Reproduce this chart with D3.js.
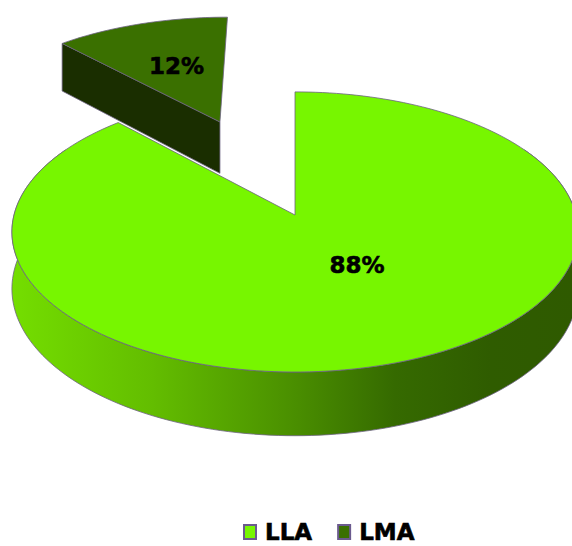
<!DOCTYPE html>
<html>
<head>
<meta charset="utf-8">
<script src="https://cdn.jsdelivr.net/npm/d3@7"></script>
<style>
  html, body { margin: 0; padding: 0; background: #fff; }
  svg { display: block; }
  text { font-family: "DejaVu Sans", sans-serif; font-weight: bold; fill: #000; stroke: #000; stroke-width: 0.6px; }
</style>
</head>
<body>
<svg id="chart" width="572" height="546"></svg>
<script>
// Share of each category (percent)
const categories = ["LLA", "LMA"];
const values = [88, 12];
const labels = ["88%", "12%"];

const topColors = ["#77f600", "#3a7000"];
const sideColors = ["#5cae00", "#1a2e00"];
const edgeColor = "#6c6282";

const svg = d3.select("#chart");

// Simple perspective projection of a disc lying flat (Z points away from the viewer)
const cx = 295, cy = 215, rx = 281, ry = 138, persp = 0.121, thick = 56;
function project(X, Z, down) {
  const s = 1 / (1 + persp * Z);
  return [cx + rx * X * s, cy - ry * Z * s + (down ? thick * s : 0)];
}

const pie = d3.pie().sort(null).value(d => d)(values);
const explode = [0, 0.79];
const labelRadius = [0.37, 0.55];
const labelNudge = [22, 2];

function offsetOf(i) {
  const d = pie[i];
  const mid = (d.startAngle + d.endAngle) / 2;
  return [explode[i] * Math.sin(mid), explode[i] * Math.cos(mid)];
}
function rimPoint(i, a, down) {
  const [ox, oz] = offsetOf(i);
  return project(ox + Math.sin(a), oz + Math.cos(a), down);
}
function arcPoints(i, a0, a1, down, n) {
  const pts = [];
  for (let k = 0; k <= n; k++) pts.push(rimPoint(i, a0 + (a1 - a0) * k / n, down));
  return pts;
}
function centerPoint(i, down) {
  const [ox, oz] = offsetOf(i);
  return project(ox, oz, down);
}
const line = d3.line();

// Horizontal shading for the rim of the big slice
const defs = svg.append("defs");
const grad = defs.append("linearGradient")
  .attr("id", "rimShade").attr("gradientUnits", "userSpaceOnUse")
  .attr("x1", 12).attr("x2", 575).attr("y1", 0).attr("y2", 0);
[[0, "#74de00"], [0.25, "#63bd00"], [0.5, "#4a8f00"], [0.68, "#356a00"], [0.85, "#2f5c00"], [1, "#2f5a00"]]
  .forEach(([o, c]) => grad.append("stop").attr("offset", o).attr("stop-color", c));

const g = svg.append("g");

// Small slice (pulled out, farther from the viewer) drawn first
{
  const i = 1, d = pie[i];
  const c0 = centerPoint(i, false), c1 = centerPoint(i, true);
  const e0 = rimPoint(i, d.startAngle, false);
  const e1 = rimPoint(i, d.startAngle, true);
  // radial wall on the start edge
  g.append("path")
    .attr("d", line([c0, e0, e1, c1]) + "Z")
    .attr("fill", sideColors[i]).attr("stroke", edgeColor).attr("stroke-width", 0.8)
    .attr("stroke-linejoin", "round");
  // top face
  const top = [c0].concat(arcPoints(i, d.startAngle, d.endAngle, false, 40));
  g.append("path")
    .attr("d", line(top) + "Z")
    .attr("fill", topColors[i]).attr("stroke", edgeColor).attr("stroke-width", 0.8)
    .attr("stroke-linejoin", "round");
}

// Big slice
{
  const i = 0, d = pie[i];
  // outer rim, front part
  const a0 = Math.PI / 3, a1 = 5 * Math.PI / 3;
  const upper = arcPoints(i, a0, a1, false, 160);
  const lower = arcPoints(i, a0, a1, true, 160).reverse();
  g.append("path")
    .attr("d", line(upper.concat(lower)) + "Z")
    .attr("fill", "url(#rimShade)").attr("stroke", edgeColor).attr("stroke-width", 0.8);
  // top face
  const top = [centerPoint(i, false)].concat(arcPoints(i, d.startAngle, d.endAngle, false, 200));
  g.append("path")
    .attr("d", line(top) + "Z")
    .attr("fill", topColors[i]).attr("stroke", edgeColor).attr("stroke-width", 0.8)
    .attr("stroke-linejoin", "round");
}

// Percentage labels
pie.forEach((d, i) => {
  const [ox, oz] = offsetOf(i);
  const mid = (d.startAngle + d.endAngle) / 2;
  const p = project(ox + labelRadius[i] * Math.sin(mid), oz + labelRadius[i] * Math.cos(mid), false);
  g.append("text")
    .attr("x", p[0] + labelNudge[i]).attr("y", p[1])
    .attr("text-anchor", "middle").attr("dominant-baseline", "central")
    .attr("font-size", 23)
    .text(labels[i]);
});

// Legend
const legend = svg.append("g").attr("transform", "translate(243,532)");
let lx = 0;
categories.forEach((c, i) => {
  const item = legend.append("g").attr("transform", `translate(${lx},0)`);
  item.append("rect")
    .attr("x", 1).attr("y", -7).attr("width", 12).attr("height", 14)
    .attr("fill", topColors[i]).attr("stroke", "#6b5a8e").attr("stroke-width", 2);
  const t = item.append("text")
    .attr("x", 22).attr("y", 0)
    .attr("dominant-baseline", "central")
    .attr("font-size", 23)
    .text(c);
  lx += 22 + t.node().getComputedTextLength() + 25;
});
</script>
</body>
</html>
